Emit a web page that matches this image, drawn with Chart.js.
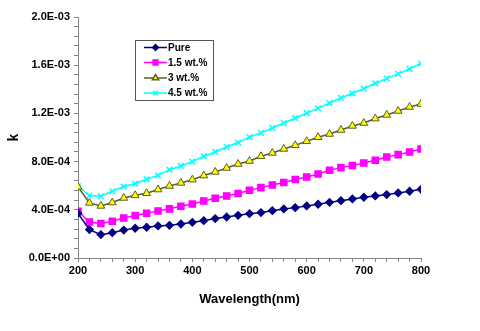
<!DOCTYPE html>
<html>
<head>
<meta charset="utf-8">
<script src="https://cdn.jsdelivr.net/npm/chart.js"></script>
<style>
     html, body { margin: 0; padding: 0; background: #fff; }
     #wrap { width: 480px; height: 331px; position: relative; }
</style>
</head>
<body>
<div id="wrap"><canvas id="myChart" width="480" height="331"></canvas></div>
<script>
// wavelength (nm), every 20 nm
var wavelengths = [200, 220, 240, 260, 280, 300, 320, 340, 360, 380, 400, 420, 440, 460, 480,
     500, 520, 540, 560, 580, 600, 620, 640, 660, 680, 700, 720, 740, 760, 780, 800];

var seriesNames = ["Pure", "1.5 wt.%", "3 wt.%", "4.5 wt.%"];

var kPure = [3.70e-4, 2.36e-4, 1.94e-4, 2.10e-4, 2.32e-4, 2.47e-4, 2.55e-4, 2.66e-4, 2.71e-4, 2.82e-4,
     2.96e-4, 3.10e-4, 3.27e-4, 3.40e-4, 3.54e-4, 3.68e-4, 3.77e-4, 3.93e-4, 4.07e-4, 4.18e-4,
     4.32e-4, 4.46e-4, 4.62e-4, 4.76e-4, 4.90e-4, 5.04e-4, 5.15e-4, 5.26e-4, 5.40e-4, 5.54e-4, 5.70e-4];

var k15 = [3.88e-4, 2.99e-4, 2.86e-4, 3.05e-4, 3.32e-4, 3.52e-4, 3.71e-4, 3.90e-4, 4.08e-4, 4.29e-4,
     4.48e-4, 4.73e-4, 4.96e-4, 5.15e-4, 5.35e-4, 5.62e-4, 5.84e-4, 6.06e-4, 6.26e-4, 6.51e-4,
     6.72e-4, 6.97e-4, 7.28e-4, 7.50e-4, 7.67e-4, 7.88e-4, 8.11e-4, 8.38e-4, 8.58e-4, 8.80e-4, 9.05e-4];

var k30 = [5.90e-4, 4.57e-4, 4.32e-4, 4.60e-4, 4.98e-4, 5.20e-4, 5.37e-4, 5.68e-4, 5.98e-4, 6.23e-4,
     6.50e-4, 6.84e-4, 7.14e-4, 7.47e-4, 7.80e-4, 8.05e-4, 8.44e-4, 8.72e-4, 9.05e-4, 9.35e-4,
     9.69e-4, 1.002e-3, 1.029e-3, 1.062e-3, 1.096e-3, 1.120e-3, 1.157e-3, 1.187e-3, 1.220e-3, 1.253e-3, 1.278e-3];

var k45 = [5.95e-4, 5.18e-4, 5.12e-4, 5.54e-4, 5.93e-4, 6.18e-4, 6.53e-4, 6.86e-4, 7.33e-4, 7.64e-4,
     8.00e-4, 8.44e-4, 8.80e-4, 9.21e-4, 9.58e-4, 1.004e-3, 1.038e-3, 1.079e-3, 1.120e-3, 1.160e-3,
     1.203e-3, 1.242e-3, 1.286e-3, 1.328e-3, 1.367e-3, 1.406e-3, 1.450e-3, 1.489e-3, 1.528e-3, 1.569e-3, 1.614e-3];

var xMajor = 100;
var yMajor = 4e-4;

function toPoints(values) {
     return wavelengths.map(function (w, i) { return { x: w, y: values[i] }; });
}

function expLabel(v) {
     if (Math.abs(v) < 1e-12) return "0.0E+00";
     var s = v.toExponential(1).toUpperCase();   // e.g. 4.0E-4
     var parts = s.split("E");
     var e = parseInt(parts[1], 10);
     var sign = e < 0 ? "-" : "+";
     e = Math.abs(e);
     return parts[0] + "E" + sign + (e < 10 ? "0" : "") + e;
}

var axisColor = "#868686";
var fontFamily = "'Liberation Sans', Arial, sans-serif";

// floating legend box drawn inside the plot like the original
var boxLegend = {
     id: "boxLegend",
     afterDraw: function (chart) {
          var ctx = chart.ctx;
          var bx = 135.5, by = 40.5, bw = 78, bh = 60;
          var rows = [47.5, 62.5, 78, 93];
          ctx.save();
          ctx.strokeStyle = "#555555";
          ctx.lineWidth = 1;
          ctx.strokeRect(bx, by, bw, bh);
          chart.data.datasets.forEach(function (ds, i) {
               var y = rows[i];
               ctx.strokeStyle = ds.borderColor;
               ctx.lineWidth = 1.5;
               ctx.beginPath();
               ctx.moveTo(144, y);
               ctx.lineTo(167, y);
               ctx.stroke();
               ctx.save();
               ctx.fillStyle = ds.pointBackgroundColor;
               ctx.strokeStyle = ds.pointBorderColor;
               Chart.helpers.drawPoint(ctx, {
                    pointStyle: ds.pointStyle,
                    radius: ds.pointRadius * 0.8,
                    rotation: 0,
                    borderWidth: 1
               }, 155.5, y);
               ctx.restore();
               ctx.fillStyle = "#000";
               ctx.font = "bold 10px " + fontFamily;
               ctx.textBaseline = "middle";
               ctx.textAlign = "left";
               ctx.fillText(ds.label, 168, y + 0.5);
          });
          ctx.restore();
     }
};

new Chart("myChart", {
     type: "line",
     data: {
          datasets: [{
               label: seriesNames[0],
               data: toPoints(kPure),
               borderColor: "#000080",
               backgroundColor: "#000080",
               pointBackgroundColor: "#000080",
               pointBorderColor: "#000080",
               pointStyle: "rectRot",
               pointRadius: 3.6,
               borderWidth: 1.5
          }, {
               label: seriesNames[1],
               data: toPoints(k15),
               borderColor: "#ff00ff",
               backgroundColor: "#ff00ff",
               pointBackgroundColor: "#ff00ff",
               pointBorderColor: "#ff00ff",
               pointStyle: "rect",
               pointRadius: 4.3,
               borderWidth: 1.5
          }, {
               label: seriesNames[2],
               data: toPoints(k30),
               borderColor: "#5c5c2e",
               backgroundColor: "#ffff00",
               pointBackgroundColor: "#ffff00",
               pointBorderColor: "#5c5c2e",
               pointStyle: "triangle",
               pointRadius: 4.5,
               pointBorderWidth: 1,
               borderWidth: 1.5
          }, {
               label: seriesNames[3],
               data: toPoints(k45),
               borderColor: "#00ffff",
               backgroundColor: "#00ffff",
               pointBackgroundColor: "#00ffff",
               pointBorderColor: "#00ffff",
               pointStyle: "crossRot",
               pointRadius: 4,
               pointBorderWidth: 1.5,
               borderWidth: 1.5
          }]
     },
     options: {
          responsive: false,
          animation: false,
          layout: { padding: { top: 17, right: 59, left: 6, bottom: 20 } },
          plugins: {
               legend: { display: false },
               tooltip: { enabled: false }
          },
          scales: {
               x: {
                    type: "linear",
                    min: 200,
                    max: 800,
                    afterFit: function (scale) { scale.height = 53; },
                    border: { color: axisColor, width: 1 },
                    grid: { drawOnChartArea: false, drawTicks: true, tickLength: 4, color: axisColor },
                    ticks: {
                         stepSize: 20,
                         autoSkip: false,
                         maxRotation: 0,
                         padding: 2,
                         color: "#000",
                         font: { family: fontFamily, size: 11, weight: "bold" },
                         callback: function (v) {
                              return Math.round(v) % xMajor === 0 ? String(Math.round(v)) : "";
                         }
                    },
                    title: {
                         display: true,
                         text: "Wavelength(nm)",
                         color: "#000",
                         padding: { top: 12 },
                         font: { family: fontFamily, size: 13, weight: "bold" }
                    }
               },
               y: {
                    min: 0,
                    max: 2e-3,
                    afterFit: function (scale) { scale.width = 72; },
                    border: { color: axisColor, width: 1 },
                    grid: { drawOnChartArea: false, drawTicks: true, tickLength: 4, color: axisColor },
                    ticks: {
                         stepSize: 8e-5,
                         autoSkip: false,
                         padding: 4,
                         color: "#000",
                         font: { family: fontFamily, size: 11, weight: "bold" },
                         callback: function (v) {
                              var n = Math.round(v / 8e-5);
                              return n % 5 === 0 ? expLabel(n / 5 * yMajor) : "";
                         }
                    },
                    title: {
                         display: true,
                         text: "k",
                         color: "#000",
                         padding: 0,
                         font: { family: fontFamily, size: 14, weight: "bold" }
                    }
               }
          }
     },
     plugins: [boxLegend]
});
</script>
</body>
</html>
